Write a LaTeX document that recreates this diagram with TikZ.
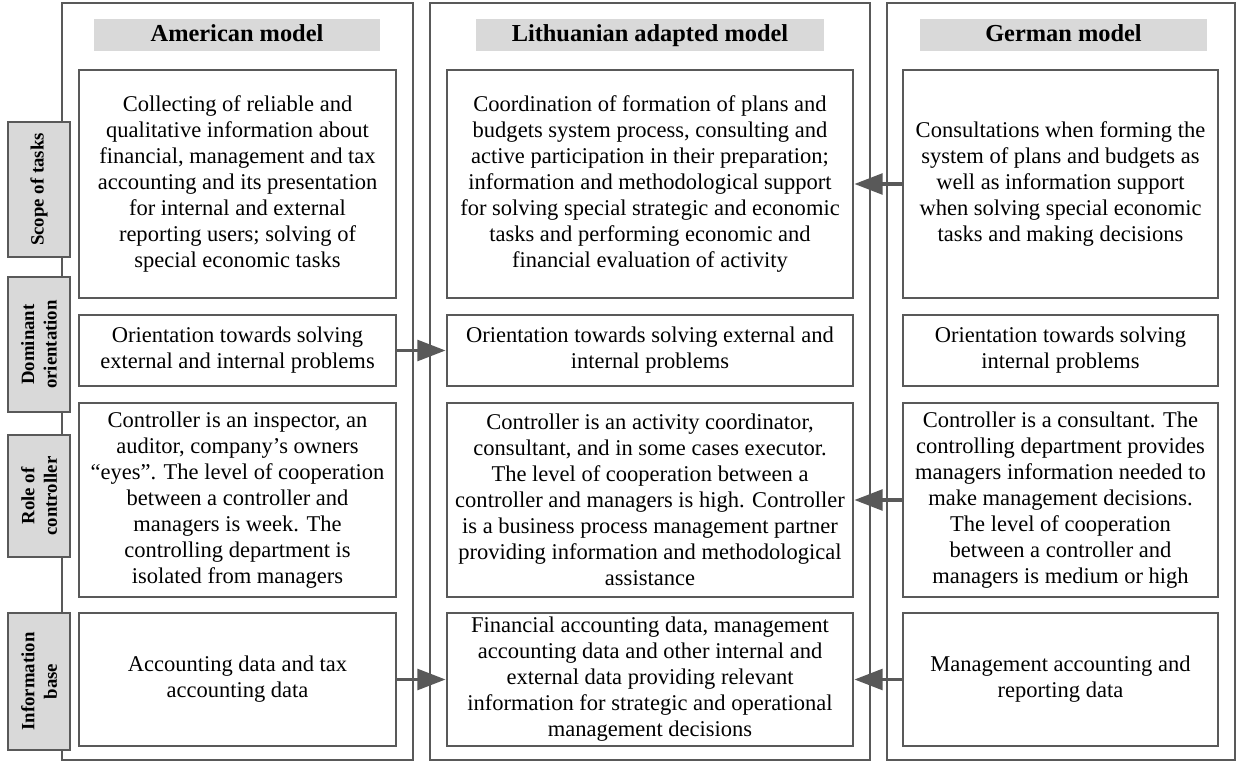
\documentclass[tikz,border=0pt]{standalone}
\usepackage{fontspec}
\setmainfont{Liberation Serif}
\usetikzlibrary{arrows.meta}

\definecolor{edge}{RGB}{89,89,89}
\definecolor{shade}{RGB}{217,217,217}

\begin{document}
\begin{tikzpicture}[x=0.533pt, y=-0.533pt,
  size/.style 2 args={minimum width=#1*0.533pt, minimum height=#2*0.533pt},
  box/.style={draw=edge, line width=1.5pt, inner sep=0pt, align=center,
    font=\fontsize{12}{13.86}\selectfont},
  head/.style={fill=shade, inner sep=0pt, size={286}{32}, text height=0.7em, text depth=0.04em,
    font=\bfseries\fontsize{13}{15}\selectfont},
  side/.style={draw=edge, fill=shade, line width=1.5pt, inner sep=0pt, align=center,
    rotate=90, minimum height=33pt, font=\bfseries\fontsize{10}{12}\selectfont},
  link/.style={draw=edge, line width=1.9pt, -{Triangle[length=15pt,width=11pt]}}]

  \useasboundingbox (0,0) rectangle (1239,762);

  % the three model columns
  \foreach \l/\r in {62/413, 430/870, 887/1235}
    \draw[edge, line width=1.3pt] (\l,3) rectangle (\r,760);

  \node[head] (amhead) at (237,35) {American model};
  \node[head, size={348}{32}] (lihead) at (650,35) {Lithuanian adapted model};
  \node[head, size={287}{32}] (dehead) at (1063.5,35) {German model};

  % American model
  \node[box, size={317}{228}] (am1) at (237.5,184) {Collecting of reliable and\\qualitative information about\\financial, management and tax\\accounting and its presentation\\for internal and external\\reporting users; solving of\\special economic tasks};
  \node[box, size={317}{71}] (am2) at (237.5,350.5) {Orientation towards solving\\external and internal problems};
  \node[box, size={317}{194}] (am3) at (237.5,500) {Controller is an inspector, an\\auditor, company’s owners\\“eyes”. The level of cooperation\\between a controller and\\managers is week. The\\controlling department is\\isolated from managers};
  \node[box, size={317}{133}] (am4) at (237.5,679.5) {Accounting data and tax\\accounting data};

  % Lithuanian adapted model
  \node[box, size={406}{228}] (li1) at (650,184) {Coordination of formation of plans and\\budgets system process, consulting and\\active participation in their preparation;\\information and methodological support\\for solving special strategic and economic\\tasks and performing economic and\\financial evaluation of activity};
  \node[box, size={406}{71}] (li2) at (650,350.5) {Orientation towards solving external and\\internal problems};
  \node[box, size={406}{194}] (li3) at (650,500) {Controller is an activity coordinator,\\consultant, and in some cases executor.\\The level of cooperation between a\\controller and managers is high. Controller\\is a business process management partner\\providing information and methodological\\assistance};
  \node[box, size={406}{133}] (li4) at (650,679.5) {Financial accounting data, management\\accounting data and other internal and\\external data providing relevant\\information for strategic and operational\\management decisions};

  % German model
  \node[box, size={315}{228}] (de1) at (1060.5,184) {Consultations when forming the\\system of plans and budgets as\\well as information support\\when solving special economic\\tasks and making decisions};
  \node[box, size={315}{71}] (de2) at (1060.5,350.5) {Orientation towards solving\\internal problems};
  \node[box, size={315}{194}] (de3) at (1060.5,500) {Controller is a consultant. The\\controlling department provides\\managers information needed to\\make management decisions.\\The level of cooperation\\between a controller and\\managers is medium or high};
  \node[box, size={315}{133}] (de4) at (1060.5,679.5) {Management accounting and\\reporting data};

  % criteria on the left
  \node[side, minimum width=72pt] (scope) at (39,189.5) {Scope of tasks};
  \node[side, minimum width=72pt] (orient) at (39,344.5) {Dominant\\orientation};
  \node[side, minimum width=65pt] (role) at (39,496) {Role of\\controller};
  \node[side, minimum width=73pt] (info) at (39,681.5) {Information\\base};

  % what the adapted model takes over
  \draw[link] (am2.east) -- (li2.west);
  \draw[link] (am4.east) -- (li4.west);
  \draw[link] (de1.west) -- (li1.east);
  \draw[link] (de3.west) -- (li3.east);
  \draw[link] (de4.west) -- (li4.east);

\end{tikzpicture}
\end{document}
